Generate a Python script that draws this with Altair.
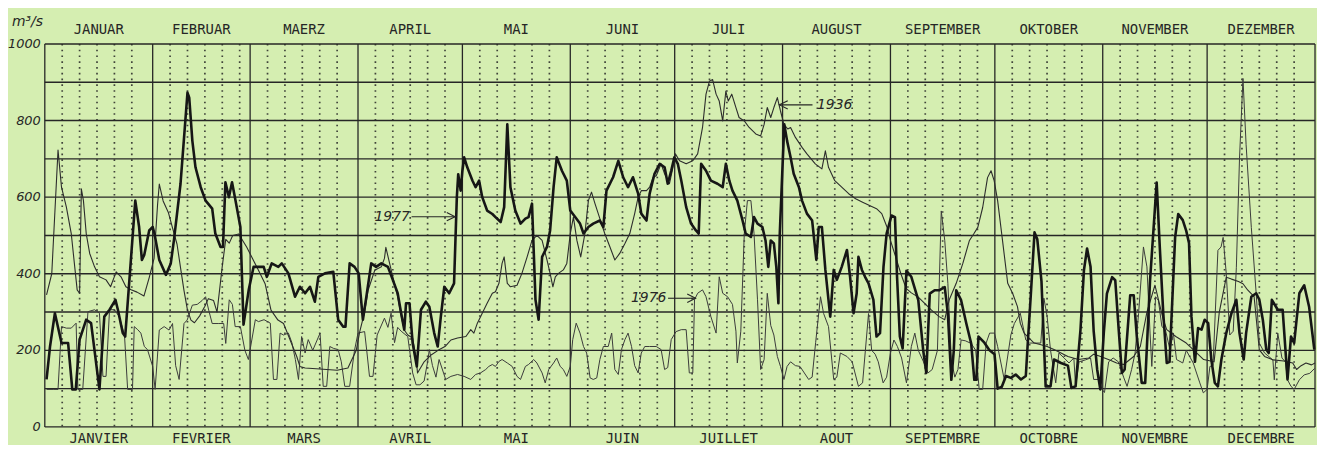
import altair as alt
import pandas as pd

# ---------------- data ----------------
MONTH_STARTS = [0, 31, 59, 90, 120, 151, 181, 212, 243, 273, 304, 334]
YEAR_END = 365
MONTHS_DE = ["JANUAR", "FEBRUAR", "MAERZ", "APRIL", "MAI", "JUNI", "JULI",
             "AUGUST", "SEPTEMBER", "OKTOBER", "NOVEMBER", "DEZEMBER"]
MONTHS_FR = ["JANVIER", "FEVRIER", "MARS", "AVRIL", "MAI", "JUIN", "JUILLET",
             "AOUT", "SEPTEMBRE", "OCTOBRE", "NOVEMBRE", "DECEMBRE"]
Y_TICKS = [0, 200, 400, 600, 800, 1000]
H_GRID = [0, 100, 200, 300, 400, 500, 600, 700, 800, 900, 1000]
DOT_OFFSETS = [5, 10, 15, 20, 25]

# (day of year, discharge m3/s)
Q1977 = [(0.5,124),(1.5,210),(2.9,297),(4.8,219),(6.7,219),(7.9,98),(8.9,98),(10,228),(11.9,280),(13.3,271),
 (15.7,98),(17.1,288),(18.6,306),(20.3,332),(21,306),(22.4,245),(23.1,236),(26,591),(27.1,522),(27.9,436),
 (28.6,450),(30,513),(31,522),(31.5,505),(32.9,436),(34.8,397),(36.2,427),(37.1,487),(39,635),(41,873),
 (41.5,860),(42.4,747),(43.3,678),(44.8,626),(46.2,591),(48.1,570),(49,505),(50.5,470),(51.2,470),(51.9,639),
 (52.9,600),(53.8,639),(54.8,591),(56.2,522),(57.1,267),(58.6,358),(60,418),(61.4,418),(62.9,418),(63.8,392),
 (65.2,427),(67.1,418),(68.1,427),(70,401),(71.9,340),(73.3,366),(74.8,349),(76.2,366),(77.6,327),(78.6,392),
 (80.5,401),(82.9,405),(84.3,280),(85.7,262),(86.4,262),(87.6,427),(89,418),(90.2,401),(91.4,280),(92.4,340),
 (93.8,427),(95.2,418),(96.7,427),(98.6,418),(100,384),(101.4,349),(102.4,297),(103.3,254),(103.8,323),(104.8,323),
 (105.7,219),(106.9,158),(108.1,306),(109.5,327),(110.5,314),(111.9,245),(112.9,210),(113.8,288),(114.8,366),(116.2,349),
 (117.6,375),(118.4,600),(118.8,660),(119.5,617),(120,669),(120.5,704),(121.4,678),(122.9,643),(123.8,626),(124.8,643),
 (125.7,600),(127.1,565),(128.6,556),(129.5,548),(131,535),(132,574),(132.9,790),(133.8,626),(135.2,565),(136.7,531),
 (138.1,544),(139,548),(140,583),(141,332),(141.9,280),(142.9,444),(144.3,470),(145.2,513),(146.2,626),(147.1,704),
 (148.6,669),(150,643),(151,565),(152.4,548),(153.8,531),(154.8,505),(156.2,522),(157.6,531),(159.5,539),(160.5,522),
 (161.4,617),(163.3,652),(164.8,695),(166.2,652),(167.6,626),(169,652),(170.5,609),(171.4,557),(172.9,539),(173.8,609),
 (175.2,661),(176.7,687),(178.1,678),(179,635),(180,669),(180.9,704),(181.9,687),(182.9,643),(184.3,574),(185.7,531),
 (187.1,513),(187.9,505),(188.6,687),(190,669),(191.4,643),(193.3,635),(194.8,626),(195.7,687),(196.7,643),(197.6,617),
 (199,591),(200.5,539),(201.4,505),(202.9,496),(203.8,548),(204.8,531),(206.2,522),(207.1,487),(207.9,418),(208.6,487),
 (209.5,479),(210.2,418),(210.8,323),(211.2,505),(211.9,661),(212.5,790),(213.3,747),(214.3,704),(215.2,661),(216.7,626),
 (217.6,591),(219,557),(220.5,539),(221.7,436),(222.4,522),(223.3,522),(224.3,410),(225.7,288),(226.7,410),(227.6,384),
 (229,418),(230.5,462),(231.4,392),(232.4,297),(233.3,349),(233.8,444),(234.8,410),(235.7,392),(236.7,375),(238.1,332),
 (239,236),(240,245),(241,418),(241.9,505),(243.3,552),(244.3,548),(244.9,391),(245.7,236),(246.5,205),(247.6,408),
 (249,392),(251,331),(252.4,201),(253.3,141),(254.3,348),(255.7,357),(257.1,357),(258.6,365),(259.5,296),(260.5,123),
 (261.2,200),(261.9,357),(263.3,331),(264.8,270),(266.2,218),(267.1,123),(267.7,123),(268.3,236),(270,220),(271.4,201),
 (272.9,190),(273.8,100),(275,105),(276.2,133),(277.6,128),(279,137),(280.5,124),(281.9,133),(282.4,210),(283.3,340),
 (284.4,508),(285.2,490),(286.4,380),(287.6,106),(289,106),(290,176),(292,167),(294,160),(295,102),(296.2,106),
 (297.6,253),(298.6,409),(299.5,466),(300.5,418),(301.4,250),(302.4,150),(303.3,98),(304.3,245),(305.2,348),(306.7,391),
 (307.6,383),(308.6,253),(309.5,141),(310.3,150),(311.9,344),(312.9,344),(313.8,236),(315.2,115),(316.2,115),(317.6,383),
 (319.5,638),(320.4,469),(321.4,296),(322.4,167),(323.2,170),(324.8,495),(325.7,556),(327,540),(328,512),(328.8,480),
 (329.5,288),(330.5,170),(331.4,258),(332.4,254),(333.3,280),(334.3,271),(335.2,176),(336.2,115),(337.1,106),(338.1,176),
 (339.5,245),(341,297),(342.4,332),(343.3,245),(344.5,176),(345.2,245),(346.7,340),(348.1,349),(349,332),(350,280),
 (351,202),(351.7,193),(352.6,332),(354.3,306),(355.7,306),(357.1,124),(358.1,236),(359,219),(360.5,349),(361.9,370),
 (363.3,314),(364.8,202)]

Q1936 = [(0.5,345),(2,400),(3.8,723),(4.8,626),(6.2,574),(7.6,505),(8.6,418),(9.3,358),(10,349),(10.5,622),
 (11.1,591),(11.9,505),(12.9,453),(14.3,418),(15.7,392),(17.6,384),(18.9,366),(20.5,405),(21.9,392),(23.3,366),
 (24.8,358),(26.5,352),(28.5,342),(30,390),(31.4,440),(32.4,580),(32.9,634),(34,590),(35.5,560),(36.7,520),
 (38,477),(39,416),(40,356),(41,305),(42,279),(43,272),(44.5,290),(46,315),(47,335),(48.5,330),
 (49.5,300),(51,420),(52,490),(53,480),(54,500),(55.7,504),(58,470),(59.5,443),(61.4,409),(63.3,374),
 (65,305),(67,279),(68.6,270),(70.5,227),(72.4,184),(73.3,158),(74.8,154),(78,152),(81,150),(84,148),
 (87.1,154),(89.5,200),(90.5,249),(91.9,300),(92.9,357),(94.8,409),(96.7,418),(97.6,440),(98,469),(100,392),
 (101.4,340),(102.4,290),(103.3,253),(104.3,240),(105.7,232),(106.7,180),(107.1,141),(109,170),(111,188),(113,200),
 (115,210),(116.7,227),(118.6,232),(121,236),(122.4,254),(123.3,245),(124.3,271),(125.7,297),(127.1,323),(128.6,349),
 (129.5,353),(130.5,375),(131.4,427),(132,444),(132.9,375),(133.8,366),(135.7,370),(137.1,401),(138.6,444),(140,487),
 (141.4,500),(142.9,487),(144.3,436),(145.2,401),(146,366),(146.7,392),(147.6,401),(149,410),(150,427),(151,505),
 (151.9,548),(152.9,487),(154,444),(155.2,505),(156.2,591),(157.1,613),(158.1,583),(159.5,544),(160.9,505),(162.4,470),
 (163.8,436),(165.2,453),(166.7,479),(168.1,505),(169.5,557),(170.5,600),(171.4,617),(172.9,617),(173.8,626),(174.8,652),
 (175.7,656),(177.1,687),(178.1,661),(179.5,635),(180.5,678),(181.2,713),(182.4,695),(184.3,687),(186.2,695),(187.6,713),
 (189,782),(190,869),(191,903),(191.9,907),(192.9,869),(193.8,851),(194.8,799),(195.7,877),(196.4,851),(197.4,869),
 (198.6,834),(199.5,808),(201,799),(202.4,782),(204.3,765),(205.7,760),(206.7,790),(207.6,834),(208.6,808),(209.5,834),
 (210.5,860),(211.4,825),(212.4,790),(213.5,778),(214.3,782),(215.7,756),(217.6,730),(219,713),(221.4,687),(223.3,674),
 (224.3,721),(225.2,678),(227,643),(229,626),(231,609),(233,596),(235,587),(237,578),(239,570),(240.5,557),
 (242,522),(243,487),(244.5,444),(246,400),(247.5,362),(249,350),(251,339),(252.9,322),(254.8,305),(257,288),
 (258.6,280),(259.9,332),(261.9,375),(263.8,427),(265.7,487),(267,505),(268.1,521),(269.5,573),(270.9,651),(271.9,669),
 (272.8,643),(273.8,591),(275.2,487),(276.7,375),(278.1,349),(279.5,314),(280.3,271),(281.4,245),(284.3,219),(286,215),
 (288,210),(290,202),(292,193),(294,184),(297,176),(300,180),(301.4,190),(303,185),(306,175),(308,167),
 (310,163),(312.9,184),(314.8,210),(316.7,300),(319,370),(321.4,280),(322.4,254),(325,236),(328,219),(330,202),
 (333,176),(336,170),(337.5,300),(339.5,391),(341,386),(343,380),(344.3,374),(345.7,357),(347.5,340),(349,201),
 (350.5,184),(353,175),(356,172),(358.6,167),(359.7,150),(361,160),(362.4,167),(364,162),(365,167)]

Q1976 = [(0.5,98),(2.4,98),(3.8,98),(4.8,262),(6.2,258),(7.6,258),(9,271),(9.5,98),(10.9,98),(12.4,301),
 (14.3,306),(15.7,297),(16.7,132),(17.6,132),(18.6,306),(20,306),(21.4,288),(22.9,240),(23.8,98),(25.2,98),
 (25.7,262),(26.7,254),(27.6,245),(28.6,210),(29.5,202),(31,158),(31.7,98),(32.9,253),(34.3,262),(35.7,253),
 (36.7,270),(37.6,160),(38.6,124),(40,270),(40.9,279),(42.4,318),(43.8,320),(45.2,330),(46.2,340),(47.1,305),
 (48.1,270),(50,270),(51.4,270),(52,218),(53,332),(53.9,320),(54.7,262),(56.2,262),(57.5,200),(58.5,176),
 (60.5,280),(61.4,275),(63,280),(64.8,271),(65.7,124),(66.7,124),(67.6,245),(68.6,240),(70,245),(71,220),
 (72,176),(72.9,124),(73.8,236),(74.8,193),(75.7,228),(77,200),(79.1,245),(80,106),(81,106),(81.9,210),
 (83,205),(84.3,202),(85.2,170),(86.2,106),(87.6,106),(89,200),(90,245),(91.9,249),(92.5,200),(93.3,132),
 (94.3,132),(95.5,240),(97.6,284),(98.6,260),(99.5,297),(100.5,220),(101.4,260),(102.4,250),(104.3,236),(105.7,141),
 (106.7,110),(107.8,110),(109,120),(110,170),(110.5,202),(111.4,160),(112.4,130),(113.3,176),(115.2,124),(116.7,132),
 (118.6,137),(120.5,132),(122.4,124),(123.8,137),(125.2,141),(126.7,150),(127.6,158),(128.6,163),(129.5,158),(130.5,171),
 (131.4,176),(132.9,167),(134.3,158),(135.7,132),(136.7,124),(138.1,158),(139,163),(140.5,176),(141.4,167),(142.9,141),
 (143.8,115),(144.8,150),(146.2,167),(147.1,180),(148.1,158),(149,150),(150,132),(151,158),(151.7,228),(152.7,271),
 (153.8,245),(154.8,210),(155.7,193),(156.7,128),(157.6,124),(158.6,128),(159.5,176),(160.5,210),(161.9,210),(162.9,245),
 (163.8,150),(164.8,137),(165.7,202),(166.7,228),(167.6,245),(168.6,210),(169.5,160),(170.5,141),(171.4,193),(172.4,210),
 (173.8,210),(175.7,210),(177.1,202),(178.1,150),(179,155),(180,228),(181.4,249),(182.9,254),(184.3,254),(185.2,141),
 (186.2,141),(186.7,332),(187.6,349),(189,358),(190,340),(191.4,288),(192.9,245),(193.8,392),(194.8,349),(196.2,340),
 (197.6,320),(198.6,250),(199,167),(200,250),(201,505),(201.9,591),(202.9,591),(203.8,505),(204.8,332),(205.7,150),
 (206.7,176),(207.6,349),(208.6,265),(209.5,240),(210.5,184),(211.4,158),(212.4,124),(213.3,158),(214.3,170),(215.7,160),
 (217,158),(219.5,124),(220.5,130),(221.5,220),(222.9,340),(223.8,296),(225.2,262),(226.7,124),(227.6,130),(228.6,193),
 (230.5,184),(232,170),(233.8,106),(235,115),(236.7,296),(237.6,200),(238.6,190),(239.5,170),(240.9,115),(241.9,130),
 (243,193),(244,227),(245,210),(246.2,180),(247.6,115),(249,210),(250,245),(251,200),(252.5,170),(253.8,141),
 (255,150),(256.5,200),(257.6,564),(258.6,487),(259.5,375),(260.5,175),(261.5,130),(262.4,150),(263.3,227),(264.5,225),
 (266.2,218),(267.5,200),(268.5,98),(269.5,98),(270.5,219),(271.5,245),(272.9,245),(273.8,210),(275.7,124),(277.6,240),
 (278.6,270),(280.3,297),(281.9,227),(282.9,219),(284.3,219),(286.2,219),(287.1,336),(288,290),(289,200),(290.5,115),
 (291.4,193),(292.9,180),(294.3,167),(295.7,180),(296.2,106),(297.2,170),(299,175),(300.5,180),(301.4,124),(302.9,124),
 (303.8,98),(304.5,90),(305.7,170),(307,180),(308.5,170),(310,130),(311,106),(312.3,150),(313.3,193),(314.3,296),
 (315.7,470),(316.7,418),(317.6,245),(318.1,158),(319.2,340),(320,330),(321,262),(322,254),(323.3,202),(324.3,245),
 (325.2,176),(327,167),(328,200),(330,167),(331.9,115),(332.9,89),(334,98),(334.8,158),(335.7,160),(337.1,461),
 (338,470),(338.6,495),(339.5,400),(340.5,240),(341.5,250),(342.4,417),(343.3,700),(344.3,910),(345.2,737),(346.7,521),
 (348.1,348),(349,219),(350.5,193),(352.9,175),(353.3,123),(354.3,245),(355.5,180),(356.5,170),(357.1,123),(358.1,106),
 (359,98),(360.5,123),(361.9,136),(363.5,140),(364.9,153)]

# annotation labels: (label, text anchor day, value, arrow start day, arrow end day)
ANNOTATIONS = [("1977", 104.9, 549, 105.4, 117.9),
               ("1976", 178.6, 336, 179.1, 187.0),
               ("1936", 221.9, 841, 220.6, 211.1)]

# ---------------- style ----------------
BG = "#d5eeb1"
INK = "#262626"
LABEL_FONT = "DejaVu Sans Mono"
NUM_FONT = "DejaVu Sans"

x_scale = alt.Scale(domain=[0, YEAR_END], nice=False, zero=False)
y_scale = alt.Scale(domain=[0, 1000], nice=False, zero=True)


def X(f):
    return alt.X(f, type="quantitative", scale=x_scale, axis=None)


def Y(f):
    return alt.Y(f, type="quantitative", scale=y_scale, axis=None)


# grid
hgrid = alt.Chart(pd.DataFrame({"v": H_GRID})).mark_rule(
    color=INK, strokeWidth=1.4).encode(y=Y("v"))

month_lines = alt.Chart(pd.DataFrame({"d": MONTH_STARTS + [YEAR_END]})).mark_rule(
    color=INK, strokeWidth=1.3).encode(x=X("d"))

dots = [s + k for s in MONTH_STARTS for k in DOT_OFFSETS]
dotted = alt.Chart(pd.DataFrame({"d": dots})).mark_rule(
    color=INK, strokeWidth=1.7, strokeDash=[1.6, 4.2], opacity=0.85).encode(x=X("d"))


def series_df(pairs):
    return pd.DataFrame({"day": [p[0] for p in pairs], "q": [p[1] for p in pairs]})


line36 = alt.Chart(series_df(Q1936)).mark_line(
    color="#2c2c2c", strokeWidth=1.1, strokeJoin="round").encode(x=X("day"), y=Y("q"))
line76 = alt.Chart(series_df(Q1976)).mark_line(
    color="#3a3a3a", strokeWidth=1.0, strokeJoin="round").encode(x=X("day"), y=Y("q"))
line77 = alt.Chart(series_df(Q1977)).mark_line(
    color="#161616", strokeWidth=2.6, strokeJoin="round").encode(x=X("day"), y=Y("q"))

# month labels
ends = MONTH_STARTS[1:] + [YEAR_END]
mdf = pd.DataFrame({
    "mid": [(a + b) / 2 for a, b in zip(MONTH_STARTS, ends)],
    "de": MONTHS_DE,
    "fr": MONTHS_FR,
})
top_labels = alt.Chart(mdf).mark_text(
    font=LABEL_FONT, fontSize=14, color=INK, baseline="alphabetic", align="center"
).encode(x=X("mid"), y=alt.value(-10), text="de:N")
bottom_labels = alt.Chart(mdf).mark_text(
    font=LABEL_FONT, fontSize=14, color=INK, baseline="alphabetic", align="center"
).encode(x=X("mid"), y=alt.value(401), text="fr:N")

# y labels
ydf = pd.DataFrame({"v": Y_TICKS, "lab": [str(v) for v in Y_TICKS]})
y_labels = alt.Chart(ydf).mark_text(
    font=NUM_FONT, fontSize=13, fontStyle="italic", color=INK, align="right", baseline="middle"
).encode(x=alt.value(-4), y=Y("v"), text="lab:N")

unit = alt.Chart(pd.DataFrame({"t": ["m³/s"]})).mark_text(
    font=NUM_FONT, fontSize=14, fontStyle="italic", color=INK, align="left", baseline="alphabetic"
).encode(x=alt.value(-33), y=alt.value(-18), text="t:N")

# annotations
adf = pd.DataFrame({
    "lab": [a[0] for a in ANNOTATIONS],
    "tx": [a[1] for a in ANNOTATIONS],
    "v": [a[2] for a in ANNOTATIONS],
    "a1": [a[3] for a in ANNOTATIONS],
    "a2": [a[4] for a in ANNOTATIONS],
})
adf["side"] = ["right" if a2 > a1 else "left" for a1, a2 in zip(adf["a1"], adf["a2"])]

ann_right = alt.Chart(adf[adf.side == "right"]).mark_text(
    font=NUM_FONT, fontSize=14, fontStyle="italic", color=INK, align="right", baseline="middle"
).encode(x=X("tx"), y=Y("v"), text="lab:N")
ann_left = alt.Chart(adf[adf.side == "left"]).mark_text(
    font=NUM_FONT, fontSize=14, fontStyle="italic", color=INK, align="left", baseline="middle"
).encode(x=X("tx"), y=Y("v"), text="lab:N")
arrows = alt.Chart(adf).mark_rule(color=INK, strokeWidth=1.1).encode(
    x=X("a1"), x2="a2", y=Y("v"))
heads_r = alt.Chart(adf[adf.side == "right"]).mark_point(
    shape="M-2,-1L0,0L-2,1", filled=False, size=70, strokeWidth=1.1, color=INK, opacity=1
).encode(x=X("a2"), y=Y("v"))
heads_l = alt.Chart(adf[adf.side == "left"]).mark_point(
    shape="M2,-1L0,0L2,1", filled=False, size=70, strokeWidth=1.1, color=INK, opacity=1
).encode(x=X("a2"), y=Y("v"))

chart = alt.layer(
    hgrid, dotted, month_lines, line76, line36, line77,
    top_labels, bottom_labels, y_labels, unit,
    arrows, heads_r, heads_l, ann_right, ann_left,
).properties(
    width=1277, height=385,
    padding={"left": 37, "top": 35, "right": 2, "bottom": 17},
    autosize=alt.AutoSizeParams(type="none"),
    background=BG,
).configure_view(stroke=None)

chart.save("out.html", embed_options={"renderer": "svg", "actions": False})
